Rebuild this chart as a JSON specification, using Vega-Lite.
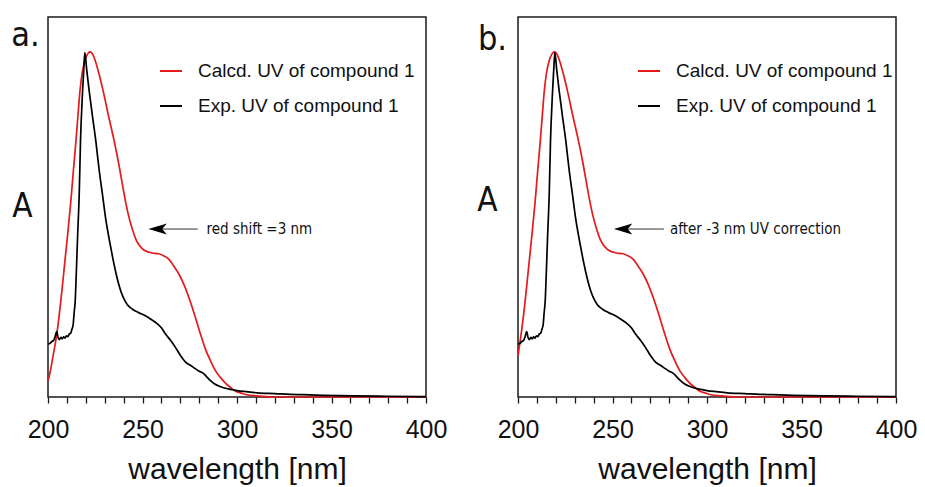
{
  "$schema": "https://vega.github.io/schema/vega-lite/v6.json",
  "background": "white",
  "padding": {"left": 10, "top": 16, "right": 5, "bottom": 2},
  "datasets": {
    "uv": [
      {"panel":"a","series":"Calcd. UV of compound 1","wl":200,"A":0.042},
      {"panel":"a","series":"Calcd. UV of compound 1","wl":201,"A":0.062},
      {"panel":"a","series":"Calcd. UV of compound 1","wl":202.5,"A":0.103},
      {"panel":"a","series":"Calcd. UV of compound 1","wl":204,"A":0.145},
      {"panel":"a","series":"Calcd. UV of compound 1","wl":205.1,"A":0.182},
      {"panel":"a","series":"Calcd. UV of compound 1","wl":206.5,"A":0.24},
      {"panel":"a","series":"Calcd. UV of compound 1","wl":207.7,"A":0.296},
      {"panel":"a","series":"Calcd. UV of compound 1","wl":209,"A":0.36},
      {"panel":"a","series":"Calcd. UV of compound 1","wl":210.4,"A":0.428},
      {"panel":"a","series":"Calcd. UV of compound 1","wl":212.1,"A":0.516},
      {"panel":"a","series":"Calcd. UV of compound 1","wl":213.5,"A":0.6},
      {"panel":"a","series":"Calcd. UV of compound 1","wl":214.8,"A":0.674},
      {"panel":"a","series":"Calcd. UV of compound 1","wl":216,"A":0.75},
      {"panel":"a","series":"Calcd. UV of compound 1","wl":216.9,"A":0.805},
      {"panel":"a","series":"Calcd. UV of compound 1","wl":218,"A":0.85},
      {"panel":"a","series":"Calcd. UV of compound 1","wl":219.5,"A":0.885},
      {"panel":"a","series":"Calcd. UV of compound 1","wl":221,"A":0.903},
      {"panel":"a","series":"Calcd. UV of compound 1","wl":222.3,"A":0.908},
      {"panel":"a","series":"Calcd. UV of compound 1","wl":223.5,"A":0.903},
      {"panel":"a","series":"Calcd. UV of compound 1","wl":225,"A":0.885},
      {"panel":"a","series":"Calcd. UV of compound 1","wl":227,"A":0.85},
      {"panel":"a","series":"Calcd. UV of compound 1","wl":229.2,"A":0.805},
      {"panel":"a","series":"Calcd. UV of compound 1","wl":232,"A":0.74},
      {"panel":"a","series":"Calcd. UV of compound 1","wl":235,"A":0.674},
      {"panel":"a","series":"Calcd. UV of compound 1","wl":237,"A":0.625},
      {"panel":"a","series":"Calcd. UV of compound 1","wl":239,"A":0.57},
      {"panel":"a","series":"Calcd. UV of compound 1","wl":240.5,"A":0.528},
      {"panel":"a","series":"Calcd. UV of compound 1","wl":242.5,"A":0.48},
      {"panel":"a","series":"Calcd. UV of compound 1","wl":244.7,"A":0.44},
      {"panel":"a","series":"Calcd. UV of compound 1","wl":246.5,"A":0.415},
      {"panel":"a","series":"Calcd. UV of compound 1","wl":248.2,"A":0.4},
      {"panel":"a","series":"Calcd. UV of compound 1","wl":250,"A":0.39},
      {"panel":"a","series":"Calcd. UV of compound 1","wl":251.7,"A":0.384},
      {"panel":"a","series":"Calcd. UV of compound 1","wl":255,"A":0.379},
      {"panel":"a","series":"Calcd. UV of compound 1","wl":258.7,"A":0.377},
      {"panel":"a","series":"Calcd. UV of compound 1","wl":261,"A":0.372},
      {"panel":"a","series":"Calcd. UV of compound 1","wl":264,"A":0.362},
      {"panel":"a","series":"Calcd. UV of compound 1","wl":266.5,"A":0.345},
      {"panel":"a","series":"Calcd. UV of compound 1","wl":269.3,"A":0.323},
      {"panel":"a","series":"Calcd. UV of compound 1","wl":272,"A":0.295},
      {"panel":"a","series":"Calcd. UV of compound 1","wl":274.6,"A":0.261},
      {"panel":"a","series":"Calcd. UV of compound 1","wl":277,"A":0.225},
      {"panel":"a","series":"Calcd. UV of compound 1","wl":280.7,"A":0.165},
      {"panel":"a","series":"Calcd. UV of compound 1","wl":283,"A":0.13},
      {"panel":"a","series":"Calcd. UV of compound 1","wl":286,"A":0.095},
      {"panel":"a","series":"Calcd. UV of compound 1","wl":288.5,"A":0.07},
      {"panel":"a","series":"Calcd. UV of compound 1","wl":291.3,"A":0.051},
      {"panel":"a","series":"Calcd. UV of compound 1","wl":294,"A":0.036},
      {"panel":"a","series":"Calcd. UV of compound 1","wl":296.6,"A":0.025},
      {"panel":"a","series":"Calcd. UV of compound 1","wl":299,"A":0.016},
      {"panel":"a","series":"Calcd. UV of compound 1","wl":301.8,"A":0.011},
      {"panel":"a","series":"Calcd. UV of compound 1","wl":305,"A":0.006},
      {"panel":"a","series":"Calcd. UV of compound 1","wl":310.7,"A":0.003},
      {"panel":"a","series":"Calcd. UV of compound 1","wl":315,"A":0.001},
      {"panel":"a","series":"Calcd. UV of compound 1","wl":320,"A":0},
      {"panel":"a","series":"Calcd. UV of compound 1","wl":400,"A":0},

      {"panel":"b","series":"Calcd. UV of compound 1","wl":200,"A":0.108},
      {"panel":"b","series":"Calcd. UV of compound 1","wl":201,"A":0.143},
      {"panel":"b","series":"Calcd. UV of compound 1","wl":202.1,"A":0.182},
      {"panel":"b","series":"Calcd. UV of compound 1","wl":203.5,"A":0.24},
      {"panel":"b","series":"Calcd. UV of compound 1","wl":204.7,"A":0.296},
      {"panel":"b","series":"Calcd. UV of compound 1","wl":206,"A":0.36},
      {"panel":"b","series":"Calcd. UV of compound 1","wl":207.4,"A":0.428},
      {"panel":"b","series":"Calcd. UV of compound 1","wl":209.1,"A":0.516},
      {"panel":"b","series":"Calcd. UV of compound 1","wl":210.5,"A":0.6},
      {"panel":"b","series":"Calcd. UV of compound 1","wl":211.8,"A":0.674},
      {"panel":"b","series":"Calcd. UV of compound 1","wl":213,"A":0.75},
      {"panel":"b","series":"Calcd. UV of compound 1","wl":213.9,"A":0.805},
      {"panel":"b","series":"Calcd. UV of compound 1","wl":215,"A":0.85},
      {"panel":"b","series":"Calcd. UV of compound 1","wl":216.5,"A":0.885},
      {"panel":"b","series":"Calcd. UV of compound 1","wl":218,"A":0.903},
      {"panel":"b","series":"Calcd. UV of compound 1","wl":219.3,"A":0.908},
      {"panel":"b","series":"Calcd. UV of compound 1","wl":220.5,"A":0.903},
      {"panel":"b","series":"Calcd. UV of compound 1","wl":222,"A":0.885},
      {"panel":"b","series":"Calcd. UV of compound 1","wl":224,"A":0.85},
      {"panel":"b","series":"Calcd. UV of compound 1","wl":226.2,"A":0.805},
      {"panel":"b","series":"Calcd. UV of compound 1","wl":229,"A":0.74},
      {"panel":"b","series":"Calcd. UV of compound 1","wl":232,"A":0.674},
      {"panel":"b","series":"Calcd. UV of compound 1","wl":234,"A":0.625},
      {"panel":"b","series":"Calcd. UV of compound 1","wl":236,"A":0.57},
      {"panel":"b","series":"Calcd. UV of compound 1","wl":237.5,"A":0.528},
      {"panel":"b","series":"Calcd. UV of compound 1","wl":239.5,"A":0.48},
      {"panel":"b","series":"Calcd. UV of compound 1","wl":241.7,"A":0.44},
      {"panel":"b","series":"Calcd. UV of compound 1","wl":243.5,"A":0.415},
      {"panel":"b","series":"Calcd. UV of compound 1","wl":245.2,"A":0.4},
      {"panel":"b","series":"Calcd. UV of compound 1","wl":247,"A":0.39},
      {"panel":"b","series":"Calcd. UV of compound 1","wl":248.7,"A":0.384},
      {"panel":"b","series":"Calcd. UV of compound 1","wl":252,"A":0.379},
      {"panel":"b","series":"Calcd. UV of compound 1","wl":255.7,"A":0.377},
      {"panel":"b","series":"Calcd. UV of compound 1","wl":258,"A":0.372},
      {"panel":"b","series":"Calcd. UV of compound 1","wl":261,"A":0.362},
      {"panel":"b","series":"Calcd. UV of compound 1","wl":263.5,"A":0.345},
      {"panel":"b","series":"Calcd. UV of compound 1","wl":266.3,"A":0.323},
      {"panel":"b","series":"Calcd. UV of compound 1","wl":269,"A":0.295},
      {"panel":"b","series":"Calcd. UV of compound 1","wl":271.6,"A":0.261},
      {"panel":"b","series":"Calcd. UV of compound 1","wl":274,"A":0.225},
      {"panel":"b","series":"Calcd. UV of compound 1","wl":277.7,"A":0.165},
      {"panel":"b","series":"Calcd. UV of compound 1","wl":280,"A":0.13},
      {"panel":"b","series":"Calcd. UV of compound 1","wl":283,"A":0.095},
      {"panel":"b","series":"Calcd. UV of compound 1","wl":285.5,"A":0.07},
      {"panel":"b","series":"Calcd. UV of compound 1","wl":288.3,"A":0.051},
      {"panel":"b","series":"Calcd. UV of compound 1","wl":291,"A":0.036},
      {"panel":"b","series":"Calcd. UV of compound 1","wl":293.6,"A":0.025},
      {"panel":"b","series":"Calcd. UV of compound 1","wl":296,"A":0.016},
      {"panel":"b","series":"Calcd. UV of compound 1","wl":298.8,"A":0.011},
      {"panel":"b","series":"Calcd. UV of compound 1","wl":302,"A":0.006},
      {"panel":"b","series":"Calcd. UV of compound 1","wl":307.7,"A":0.003},
      {"panel":"b","series":"Calcd. UV of compound 1","wl":312,"A":0.001},
      {"panel":"b","series":"Calcd. UV of compound 1","wl":317,"A":0},
      {"panel":"b","series":"Calcd. UV of compound 1","wl":400,"A":0},

      {"panel":"a","series":"Exp. UV of compound 1","wl":200,"A":0.14},
      {"panel":"a","series":"Exp. UV of compound 1","wl":201,"A":0.141},
      {"panel":"a","series":"Exp. UV of compound 1","wl":202,"A":0.146},
      {"panel":"a","series":"Exp. UV of compound 1","wl":203,"A":0.149},
      {"panel":"a","series":"Exp. UV of compound 1","wl":203.7,"A":0.158},
      {"panel":"a","series":"Exp. UV of compound 1","wl":204.6,"A":0.172},
      {"panel":"a","series":"Exp. UV of compound 1","wl":205.3,"A":0.157},
      {"panel":"a","series":"Exp. UV of compound 1","wl":206,"A":0.151},
      {"panel":"a","series":"Exp. UV of compound 1","wl":206.8,"A":0.157},
      {"panel":"a","series":"Exp. UV of compound 1","wl":207.5,"A":0.153},
      {"panel":"a","series":"Exp. UV of compound 1","wl":208.3,"A":0.158},
      {"panel":"a","series":"Exp. UV of compound 1","wl":209,"A":0.155},
      {"panel":"a","series":"Exp. UV of compound 1","wl":209.8,"A":0.161},
      {"panel":"a","series":"Exp. UV of compound 1","wl":210.5,"A":0.159},
      {"panel":"a","series":"Exp. UV of compound 1","wl":211.3,"A":0.166},
      {"panel":"a","series":"Exp. UV of compound 1","wl":212,"A":0.168},
      {"panel":"a","series":"Exp. UV of compound 1","wl":212.7,"A":0.179},
      {"panel":"a","series":"Exp. UV of compound 1","wl":213.3,"A":0.19},
      {"panel":"a","series":"Exp. UV of compound 1","wl":213.8,"A":0.22},
      {"panel":"a","series":"Exp. UV of compound 1","wl":214.4,"A":0.253},
      {"panel":"a","series":"Exp. UV of compound 1","wl":215,"A":0.33},
      {"panel":"a","series":"Exp. UV of compound 1","wl":215.7,"A":0.428},
      {"panel":"a","series":"Exp. UV of compound 1","wl":216.5,"A":0.53},
      {"panel":"a","series":"Exp. UV of compound 1","wl":217.2,"A":0.674},
      {"panel":"a","series":"Exp. UV of compound 1","wl":218.3,"A":0.805},
      {"panel":"a","series":"Exp. UV of compound 1","wl":219,"A":0.87},
      {"panel":"a","series":"Exp. UV of compound 1","wl":219.5,"A":0.906},
      {"panel":"a","series":"Exp. UV of compound 1","wl":220.5,"A":0.86},
      {"panel":"a","series":"Exp. UV of compound 1","wl":221.8,"A":0.805},
      {"panel":"a","series":"Exp. UV of compound 1","wl":223.5,"A":0.74},
      {"panel":"a","series":"Exp. UV of compound 1","wl":225.3,"A":0.674},
      {"panel":"a","series":"Exp. UV of compound 1","wl":227,"A":0.6},
      {"panel":"a","series":"Exp. UV of compound 1","wl":228.9,"A":0.53},
      {"panel":"a","series":"Exp. UV of compound 1","wl":230.5,"A":0.47},
      {"panel":"a","series":"Exp. UV of compound 1","wl":232.4,"A":0.415},
      {"panel":"a","series":"Exp. UV of compound 1","wl":234.1,"A":0.37},
      {"panel":"a","series":"Exp. UV of compound 1","wl":236,"A":0.325},
      {"panel":"a","series":"Exp. UV of compound 1","wl":238.5,"A":0.279},
      {"panel":"a","series":"Exp. UV of compound 1","wl":240,"A":0.26},
      {"panel":"a","series":"Exp. UV of compound 1","wl":242,"A":0.243},
      {"panel":"a","series":"Exp. UV of compound 1","wl":244.7,"A":0.231},
      {"panel":"a","series":"Exp. UV of compound 1","wl":248,"A":0.222},
      {"panel":"a","series":"Exp. UV of compound 1","wl":251.7,"A":0.213},
      {"panel":"a","series":"Exp. UV of compound 1","wl":254,"A":0.206},
      {"panel":"a","series":"Exp. UV of compound 1","wl":257,"A":0.196},
      {"panel":"a","series":"Exp. UV of compound 1","wl":260,"A":0.182},
      {"panel":"a","series":"Exp. UV of compound 1","wl":262.3,"A":0.165},
      {"panel":"a","series":"Exp. UV of compound 1","wl":265,"A":0.148},
      {"panel":"a","series":"Exp. UV of compound 1","wl":267.5,"A":0.13},
      {"panel":"a","series":"Exp. UV of compound 1","wl":270,"A":0.11},
      {"panel":"a","series":"Exp. UV of compound 1","wl":272.8,"A":0.092},
      {"panel":"a","series":"Exp. UV of compound 1","wl":275.5,"A":0.083},
      {"panel":"a","series":"Exp. UV of compound 1","wl":278.1,"A":0.074},
      {"panel":"a","series":"Exp. UV of compound 1","wl":280,"A":0.068},
      {"panel":"a","series":"Exp. UV of compound 1","wl":282.5,"A":0.061},
      {"panel":"a","series":"Exp. UV of compound 1","wl":284,"A":0.053},
      {"panel":"a","series":"Exp. UV of compound 1","wl":286,"A":0.043},
      {"panel":"a","series":"Exp. UV of compound 1","wl":288,"A":0.035},
      {"panel":"a","series":"Exp. UV of compound 1","wl":291.3,"A":0.027},
      {"panel":"a","series":"Exp. UV of compound 1","wl":296.6,"A":0.02},
      {"panel":"a","series":"Exp. UV of compound 1","wl":300,"A":0.017},
      {"panel":"a","series":"Exp. UV of compound 1","wl":305,"A":0.014},
      {"panel":"a","series":"Exp. UV of compound 1","wl":310.7,"A":0.011},
      {"panel":"a","series":"Exp. UV of compound 1","wl":320,"A":0.009},
      {"panel":"a","series":"Exp. UV of compound 1","wl":328,"A":0.007},
      {"panel":"a","series":"Exp. UV of compound 1","wl":335,"A":0.006},
      {"panel":"a","series":"Exp. UV of compound 1","wl":345.6,"A":0.0045},
      {"panel":"a","series":"Exp. UV of compound 1","wl":361.5,"A":0.003},
      {"panel":"a","series":"Exp. UV of compound 1","wl":379,"A":0.002},
      {"panel":"a","series":"Exp. UV of compound 1","wl":400,"A":0.001},

      {"panel":"b","series":"Exp. UV of compound 1","wl":200,"A":0.14},
      {"panel":"b","series":"Exp. UV of compound 1","wl":201,"A":0.141},
      {"panel":"b","series":"Exp. UV of compound 1","wl":202,"A":0.146},
      {"panel":"b","series":"Exp. UV of compound 1","wl":203,"A":0.149},
      {"panel":"b","series":"Exp. UV of compound 1","wl":203.7,"A":0.158},
      {"panel":"b","series":"Exp. UV of compound 1","wl":204.6,"A":0.172},
      {"panel":"b","series":"Exp. UV of compound 1","wl":205.3,"A":0.157},
      {"panel":"b","series":"Exp. UV of compound 1","wl":206,"A":0.151},
      {"panel":"b","series":"Exp. UV of compound 1","wl":206.8,"A":0.157},
      {"panel":"b","series":"Exp. UV of compound 1","wl":207.5,"A":0.153},
      {"panel":"b","series":"Exp. UV of compound 1","wl":208.3,"A":0.158},
      {"panel":"b","series":"Exp. UV of compound 1","wl":209,"A":0.155},
      {"panel":"b","series":"Exp. UV of compound 1","wl":209.8,"A":0.161},
      {"panel":"b","series":"Exp. UV of compound 1","wl":210.5,"A":0.159},
      {"panel":"b","series":"Exp. UV of compound 1","wl":211.3,"A":0.166},
      {"panel":"b","series":"Exp. UV of compound 1","wl":212,"A":0.168},
      {"panel":"b","series":"Exp. UV of compound 1","wl":212.7,"A":0.179},
      {"panel":"b","series":"Exp. UV of compound 1","wl":213.3,"A":0.19},
      {"panel":"b","series":"Exp. UV of compound 1","wl":213.8,"A":0.22},
      {"panel":"b","series":"Exp. UV of compound 1","wl":214.4,"A":0.253},
      {"panel":"b","series":"Exp. UV of compound 1","wl":215,"A":0.33},
      {"panel":"b","series":"Exp. UV of compound 1","wl":215.7,"A":0.428},
      {"panel":"b","series":"Exp. UV of compound 1","wl":216.5,"A":0.53},
      {"panel":"b","series":"Exp. UV of compound 1","wl":217.2,"A":0.674},
      {"panel":"b","series":"Exp. UV of compound 1","wl":218.3,"A":0.805},
      {"panel":"b","series":"Exp. UV of compound 1","wl":219,"A":0.87},
      {"panel":"b","series":"Exp. UV of compound 1","wl":219.5,"A":0.906},
      {"panel":"b","series":"Exp. UV of compound 1","wl":220.5,"A":0.86},
      {"panel":"b","series":"Exp. UV of compound 1","wl":221.8,"A":0.805},
      {"panel":"b","series":"Exp. UV of compound 1","wl":223.5,"A":0.74},
      {"panel":"b","series":"Exp. UV of compound 1","wl":225.3,"A":0.674},
      {"panel":"b","series":"Exp. UV of compound 1","wl":227,"A":0.6},
      {"panel":"b","series":"Exp. UV of compound 1","wl":228.9,"A":0.53},
      {"panel":"b","series":"Exp. UV of compound 1","wl":230.5,"A":0.47},
      {"panel":"b","series":"Exp. UV of compound 1","wl":232.4,"A":0.415},
      {"panel":"b","series":"Exp. UV of compound 1","wl":234.1,"A":0.37},
      {"panel":"b","series":"Exp. UV of compound 1","wl":236,"A":0.325},
      {"panel":"b","series":"Exp. UV of compound 1","wl":238.5,"A":0.279},
      {"panel":"b","series":"Exp. UV of compound 1","wl":240,"A":0.26},
      {"panel":"b","series":"Exp. UV of compound 1","wl":242,"A":0.243},
      {"panel":"b","series":"Exp. UV of compound 1","wl":244.7,"A":0.231},
      {"panel":"b","series":"Exp. UV of compound 1","wl":248,"A":0.222},
      {"panel":"b","series":"Exp. UV of compound 1","wl":251.7,"A":0.213},
      {"panel":"b","series":"Exp. UV of compound 1","wl":254,"A":0.206},
      {"panel":"b","series":"Exp. UV of compound 1","wl":257,"A":0.196},
      {"panel":"b","series":"Exp. UV of compound 1","wl":260,"A":0.182},
      {"panel":"b","series":"Exp. UV of compound 1","wl":262.3,"A":0.165},
      {"panel":"b","series":"Exp. UV of compound 1","wl":265,"A":0.148},
      {"panel":"b","series":"Exp. UV of compound 1","wl":267.5,"A":0.13},
      {"panel":"b","series":"Exp. UV of compound 1","wl":270,"A":0.11},
      {"panel":"b","series":"Exp. UV of compound 1","wl":272.8,"A":0.092},
      {"panel":"b","series":"Exp. UV of compound 1","wl":275.5,"A":0.083},
      {"panel":"b","series":"Exp. UV of compound 1","wl":278.1,"A":0.074},
      {"panel":"b","series":"Exp. UV of compound 1","wl":280,"A":0.068},
      {"panel":"b","series":"Exp. UV of compound 1","wl":282.5,"A":0.061},
      {"panel":"b","series":"Exp. UV of compound 1","wl":284,"A":0.053},
      {"panel":"b","series":"Exp. UV of compound 1","wl":286,"A":0.043},
      {"panel":"b","series":"Exp. UV of compound 1","wl":288,"A":0.035},
      {"panel":"b","series":"Exp. UV of compound 1","wl":291.3,"A":0.027},
      {"panel":"b","series":"Exp. UV of compound 1","wl":296.6,"A":0.02},
      {"panel":"b","series":"Exp. UV of compound 1","wl":300,"A":0.017},
      {"panel":"b","series":"Exp. UV of compound 1","wl":305,"A":0.014},
      {"panel":"b","series":"Exp. UV of compound 1","wl":310.7,"A":0.011},
      {"panel":"b","series":"Exp. UV of compound 1","wl":320,"A":0.009},
      {"panel":"b","series":"Exp. UV of compound 1","wl":328,"A":0.007},
      {"panel":"b","series":"Exp. UV of compound 1","wl":335,"A":0.006},
      {"panel":"b","series":"Exp. UV of compound 1","wl":345.6,"A":0.0045},
      {"panel":"b","series":"Exp. UV of compound 1","wl":361.5,"A":0.003},
      {"panel":"b","series":"Exp. UV of compound 1","wl":379,"A":0.002},
      {"panel":"b","series":"Exp. UV of compound 1","wl":400,"A":0.001}
    ]
  },
  "spacing": 28,
  "resolve": {"legend": {"color": "independent"}},
  "hconcat": [
    {
      "width": 378,
      "height": 380,
      "layer": [
        {
          "data": {"name": "uv"},
          "transform": [{"filter": "datum.panel === 'a'"}],
          "mark": {"type": "line", "strokeWidth": 1.7, "interpolate": "monotone"},
          "encoding": {
            "x": {"field": "wl", "type": "quantitative", "scale": {"domain": [200, 400], "nice": false},
                  "axis": {"title": "wavelength [nm]", "tickCount": 30, "values": [200,210,220,230,240,250,260,270,280,290,300,310,320,330,340,350,360,370,380,390,400], "labelExpr": "datum.value % 50 === 0 ? datum.label : ''"}},
            "y": {"field": "A", "type": "quantitative", "scale": {"domain": [0, 1], "nice": false},
                  "axis": {"title": "A", "titleX": -26, "titleY": 189}},
            "color": {"field": "series", "type": "nominal",
                      "scale": {"domain": ["Calcd. UV of compound 1", "Exp. UV of compound 1"], "range": ["#e41a1c", "#000000"]},
                      "legend": {"orient": "none", "legendX": 111, "legendY": 42}}
          }
        },
        {
          "data": {"values": [{}]},
          "mark": {"type": "text", "align": "left", "baseline": "alphabetic", "fontSize": 34, "font": "'Liberation Sans Narrow', 'DejaVu Sans Condensed', sans-serif", "color": "#111"},
          "encoding": {"x": {"datum": 180.5}, "y": {"datum": 0.924}, "text": {"value": "a."}}
        },
        {
          "data": {"values": [{}]},
          "mark": {"type": "rule", "color": "#333", "strokeWidth": 1},
          "encoding": {"x": {"datum": 258}, "x2": {"datum": 279.2}, "y": {"datum": 0.442}}
        },
        {
          "data": {"values": [{}]},
          "mark": {"type": "point", "shape": "M-1,0L1,-0.6L0.5,0L1,0.6Z", "filled": true, "size": 340, "color": "#000", "opacity": 1},
          "encoding": {"x": {"datum": 258}, "y": {"datum": 0.442}}
        },
        {
          "data": {"values": [{}]},
          "mark": {"type": "text", "align": "left", "baseline": "middle", "fontSize": 15, "font": "'Liberation Sans Narrow', 'DejaVu Sans Condensed', sans-serif", "color": "#111"},
          "encoding": {"x": {"datum": 283.9}, "y": {"datum": 0.442}, "text": {"value": "red shift =3 nm"}}
        }
      ]
    },
    {
      "width": 378,
      "height": 380,
      "layer": [
        {
          "data": {"name": "uv"},
          "transform": [{"filter": "datum.panel === 'b'"}],
          "mark": {"type": "line", "strokeWidth": 1.7, "interpolate": "monotone"},
          "encoding": {
            "x": {"field": "wl", "type": "quantitative", "scale": {"domain": [200, 400], "nice": false},
                  "axis": {"title": "wavelength [nm]", "tickCount": 30, "values": [200,210,220,230,240,250,260,270,280,290,300,310,320,330,340,350,360,370,380,390,400], "labelExpr": "datum.value % 50 === 0 ? datum.label : ''"}},
            "y": {"field": "A", "type": "quantitative", "scale": {"domain": [0, 1], "nice": false},
                  "axis": {"title": "A", "titleX": -31, "titleY": 183}},
            "color": {"field": "series", "type": "nominal",
                      "scale": {"domain": ["Calcd. UV of compound 1", "Exp. UV of compound 1"], "range": ["#e41a1c", "#000000"]},
                      "legend": {"orient": "none", "legendX": 119, "legendY": 42}}
          }
        },
        {
          "data": {"values": [{}]},
          "mark": {"type": "text", "align": "left", "baseline": "alphabetic", "fontSize": 34, "font": "'Liberation Sans Narrow', 'DejaVu Sans Condensed', sans-serif", "color": "#111"},
          "encoding": {"x": {"datum": 178.8}, "y": {"datum": 0.913}, "text": {"value": "b."}}
        },
        {
          "data": {"values": [{}]},
          "mark": {"type": "rule", "color": "#333", "strokeWidth": 1},
          "encoding": {"x": {"datum": 255.6}, "x2": {"datum": 277.2}, "y": {"datum": 0.442}}
        },
        {
          "data": {"values": [{}]},
          "mark": {"type": "point", "shape": "M-1,0L1,-0.6L0.5,0L1,0.6Z", "filled": true, "size": 340, "color": "#000", "opacity": 1},
          "encoding": {"x": {"datum": 255.6}, "y": {"datum": 0.442}}
        },
        {
          "data": {"values": [{}]},
          "mark": {"type": "text", "align": "left", "baseline": "middle", "fontSize": 15, "font": "'Liberation Sans Narrow', 'DejaVu Sans Condensed', sans-serif", "color": "#111"},
          "encoding": {"x": {"datum": 280.4}, "y": {"datum": 0.442}, "text": {"value": "after -3 nm UV correction"}}
        }
      ]
    }
  ],
  "config": {
    "font": "Liberation Sans",
    "view": {"stroke": "#1a1a1a", "strokeWidth": 1.5},
    "axisX": {"grid": false, "domain": false, "tickSize": 6, "tickColor": "#1a1a1a", "tickWidth": 1.3, "labelFontSize": 25, "labelColor": "#111", "labelPadding": 14, "labelOverlap": false, "labelFlush": false, "titleFontSize": 30, "titleFontWeight": "normal", "titleColor": "#111", "titlePadding": 12},
    "axisY": {"grid": false, "domain": false, "ticks": false, "labels": false, "titleAngle": 0, "titleAlign": "center", "titleBaseline": "middle", "titleFontSize": 33, "titleFont": "'Liberation Sans Narrow', 'DejaVu Sans Condensed', sans-serif", "titleFontWeight": "normal", "titleColor": "#111"},
    "legend": {"title": null, "padding": 0, "symbolType": "stroke", "symbolStrokeWidth": 2, "symbolSize": 484, "labelFontSize": 19, "labelColor": "#111", "labelOffset": 15, "rowPadding": 13, "labelLimit": 400}
  }
}
